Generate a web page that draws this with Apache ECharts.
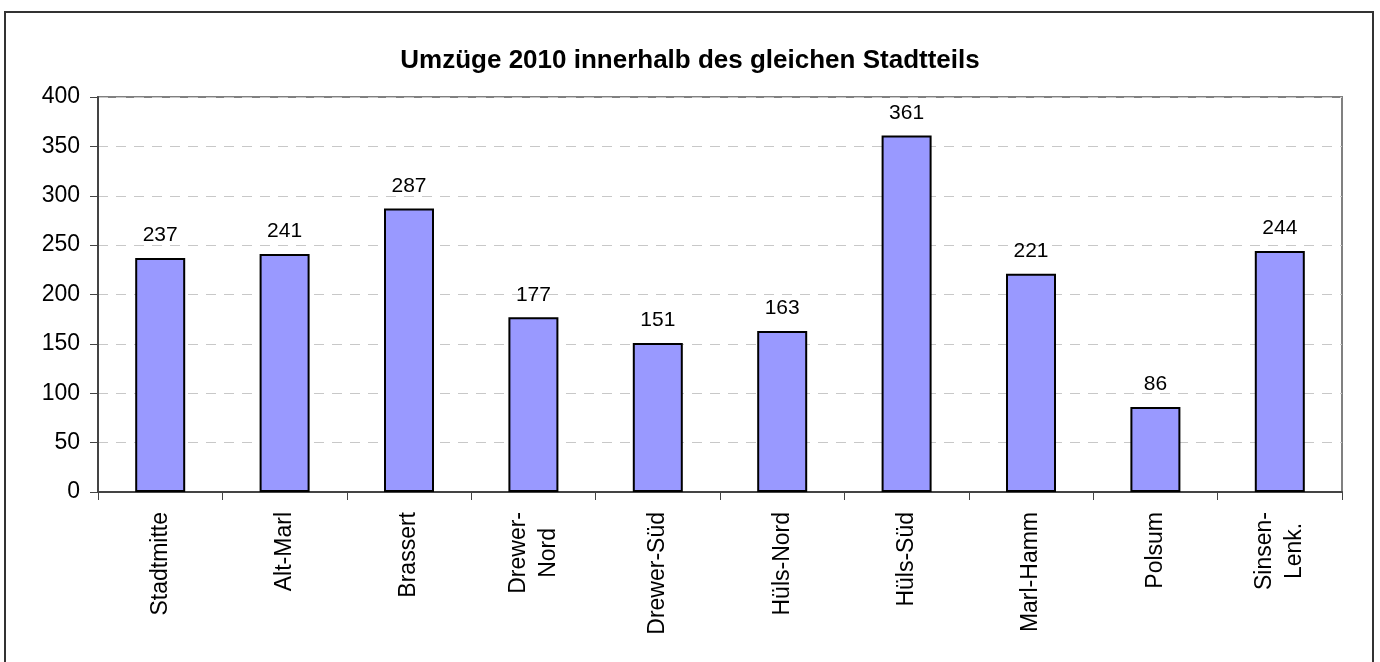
<!DOCTYPE html>
<html>
<head>
<meta charset="utf-8">
<script src="https://cdn.jsdelivr.net/npm/echarts@6/dist/echarts.min.js"></script>
<style>
  html, body { margin: 0; padding: 0; background: #fff; }
  #chart { width: 1380px; height: 662px; }
</style>
</head>
<body>
<div id="chart"></div>
<script>
// Umzüge 2010 innerhalb des gleichen Stadtteils
const categories = ['Stadtmitte', 'Alt-Marl', 'Brassert', 'Drewer-\nNord', 'Drewer-Süd',
  'Hüls-Nord', 'Hüls-Süd', 'Marl-Hamm', 'Polsum', 'Sinsen-\nLenk.'];
const values = [237, 241, 287, 177, 151, 163, 361, 221, 86, 244];
const yTicks = [0, 50, 100, 150, 200, 250, 300, 350, 400];

const font = 'Liberation Sans, Arial, sans-serif';
const chart = echarts.init(document.getElementById('chart'));

var option = {
  animation: false,
  textStyle: { fontFamily: font },
  title: {
    text: 'Umzüge 2010 innerhalb des gleichen Stadtteils',
    left: 'center',
    top: 43,
    textStyle: { fontSize: 26, fontWeight: 'bold', color: '#000', fontFamily: font }
  },
  graphic: [{
    type: 'rect',
    shape: { x: 5, y: 12, width: 1368, height: 660 },
    style: { fill: 'none', stroke: '#333', lineWidth: 2 },
    silent: true
  }],
  grid: {
    left: 98,
    top: 97,
    right: 38,
    bottom: 170,
    show: true,
    borderColor: '#808080',
    borderWidth: 2,
    backgroundColor: 'transparent'
  },
  xAxis: {
    type: 'category',
    data: categories,
    boundaryGap: true,
    axisLine: { lineStyle: { color: '#444', width: 2 } },
    axisTick: { show: true, alignWithLabel: false, interval: 0, length: 8, lineStyle: { color: '#444', width: 1 } },
    axisLabel: {
      interval: 0,
      rotate: 90,
      margin: 20,
      color: '#000',
      fontSize: 23,
      lineHeight: 30,
      formatter: function (v) {
        return v.split('\n').map(function (s) { return '{c|' + s + '}'; }).join('\n');
      },
      rich: {
        c: { align: 'center', fontSize: 23, lineHeight: 30, color: '#000', fontFamily: font }
      }
    }
  },
  yAxis: {
    type: 'value',
    min: yTicks[0],
    max: yTicks[yTicks.length - 1],
    interval: 50,
    axisLine: { show: true, lineStyle: { color: '#444', width: 2 } },
    axisTick: { show: true, length: 8, lineStyle: { color: '#444', width: 1 } },
    axisLabel: { color: '#000', fontSize: 23, margin: 18 },
    splitLine: { lineStyle: { color: '#c8c8c8', type: [10, 8], width: 1 } }
  },
  series: [{
    type: 'bar',
    data: values,
    barWidth: 50,
    itemStyle: { color: '#9999FF', borderColor: '#000', borderWidth: 2 },
    label: {
      show: true,
      position: 'top',
      distance: 12,
      color: '#000',
      fontSize: 21
    }
  }]
};
chart.setOption(option);
</script>
</body>
</html>
